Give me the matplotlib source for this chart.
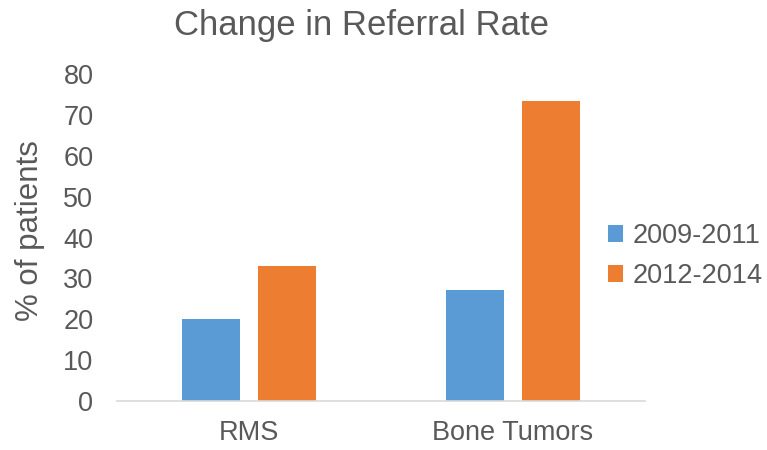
import numpy as np
import matplotlib
matplotlib.use('Agg')
import matplotlib.pyplot as plt

# data
categories = ['RMS', 'Bone Tumors']
rate_2009_2011 = [20, 27.2]
rate_2012_2014 = [33, 73.5]
series_labels = ['2009-2011', '2012-2014']

blue = '#5B9BD5'
orange = '#ED7D31'
text_col = '#595959'

plt.rcParams['font.family'] = ['Liberation Sans', 'DejaVu Sans']

fig = plt.figure(figsize=(7.67, 4.5), dpi=100)
ax = fig.add_axes([117/767, 1-401/450, (645-117)/767, (401-74)/450])

x = np.arange(len(categories))
w = 0.223
ax.bar(x - 0.144, rate_2009_2011, width=w, color=blue, label=series_labels[0])
ax.bar(x + 0.144, rate_2012_2014, width=w, color=orange, label=series_labels[1])

ax.set_xlim(-0.5, 1.5)
ax.set_ylim(0, 80)
ax.set_yticks(range(0, 81, 10))
ax.set_xticks(x)
ax.set_xticklabels(categories)
ax.tick_params(axis='both', length=0, labelsize=19.5, colors=text_col)
ax.tick_params(axis='x', pad=14)
ax.tick_params(axis='y', pad=17)

for side in ['top', 'right', 'left']:
    ax.spines[side].set_visible(False)
ax.spines['bottom'].set_color('#D9D9D9')
ax.spines['bottom'].set_linewidth(1.2)

fig.text(361/767, 1-25/450, 'Change in Referral Rate', fontsize=25,
         color=text_col, ha='center', va='center')
fig.text(30/767, 1-231/450, '% of patients', fontsize=22.5, color=text_col,
         rotation=90, ha='center', va='center')

ax.legend(loc='center left', bbox_to_anchor=(584/767, 1-256/450),
          bbox_transform=fig.transFigure, frameon=False, fontsize=19.5,
          labelcolor=text_col, handlelength=0.55, handleheight=0.6,
          handletextpad=0.33, labelspacing=0.5)

plt.savefig('out.png', dpi=100)
